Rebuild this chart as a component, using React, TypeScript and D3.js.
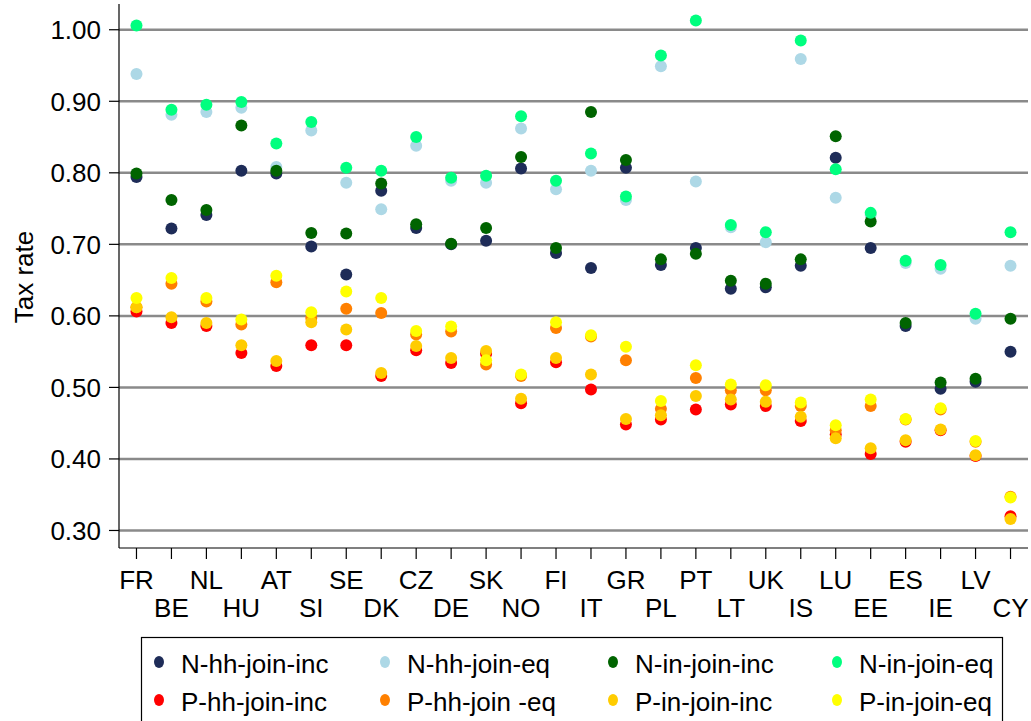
import React from 'react';
import * as d3 from 'd3';

const countries = ['FR', 'BE', 'NL', 'HU', 'AT', 'SI', 'SE', 'DK', 'CZ', 'DE', 'SK', 'NO', 'FI', 'IT', 'GR', 'PL', 'PT', 'LT', 'UK', 'IS', 'LU', 'EE', 'ES', 'IE', 'LV', 'CY'];

const nHhJoinInc = [0.794, 0.722, 0.741, 0.803, 0.799, 0.697, 0.658, 0.775, 0.723, 0.700, 0.705, 0.806, 0.688, 0.667, 0.807, 0.671, 0.695, 0.638, 0.640, 0.670, 0.821, 0.695, 0.586, 0.498, 0.508, 0.550];
const nHhJoinEq = [0.938, 0.881, 0.885, 0.891, 0.808, 0.859, 0.786, 0.749, 0.838, 0.789, 0.786, 0.862, 0.777, 0.803, 0.762, 0.949, 0.788, 0.724, 0.703, 0.959, 0.765, 0.741, 0.674, 0.666, 0.596, 0.670];
const nInJoinInc = [0.799, 0.762, 0.748, 0.866, 0.803, 0.716, 0.715, 0.785, 0.728, 0.701, 0.723, 0.822, 0.695, 0.885, 0.818, 0.679, 0.687, 0.649, 0.645, 0.679, 0.851, 0.732, 0.590, 0.507, 0.512, 0.596];
const nInJoinEq = [1.006, 0.888, 0.895, 0.899, 0.841, 0.871, 0.807, 0.803, 0.850, 0.793, 0.796, 0.879, 0.789, 0.827, 0.767, 0.964, 1.013, 0.727, 0.717, 0.985, 0.805, 0.744, 0.677, 0.671, 0.603, 0.717];
const pHhJoinInc = [0.606, 0.590, 0.586, 0.548, 0.530, 0.559, 0.559, 0.516, 0.552, 0.534, 0.547, 0.478, 0.535, 0.497, 0.448, 0.455, 0.469, 0.476, 0.474, 0.453, 0.434, 0.407, 0.424, 0.440, 0.404, 0.320];
const pHhJoinEq = [0.612, 0.645, 0.620, 0.588, 0.647, 0.597, 0.610, 0.604, 0.574, 0.578, 0.532, 0.516, 0.583, 0.571, 0.538, 0.470, 0.513, 0.496, 0.496, 0.474, 0.440, 0.474, 0.455, 0.469, 0.424, 0.347];
const pInJoinInc = [0.612, 0.598, 0.590, 0.559, 0.537, 0.591, 0.581, 0.520, 0.558, 0.541, 0.551, 0.484, 0.541, 0.518, 0.456, 0.461, 0.488, 0.483, 0.480, 0.459, 0.429, 0.415, 0.426, 0.441, 0.405, 0.316];
const pInJoinEq = [0.625, 0.653, 0.625, 0.595, 0.656, 0.605, 0.634, 0.625, 0.579, 0.585, 0.538, 0.518, 0.591, 0.573, 0.557, 0.481, 0.531, 0.504, 0.503, 0.479, 0.447, 0.483, 0.456, 0.471, 0.425, 0.346];

const seriesNames = ['N-hh-join-inc', 'N-hh-join-eq', 'N-in-join-inc', 'N-in-join-eq', 'P-hh-join-inc', 'P-hh-join -eq', 'P-in-join-inc', 'P-in-join-eq'];
const seriesColors = ['#1e2c58', '#add8e6', '#006400', '#00ff7f', '#ff0000', '#ff8000', '#ffcc00', '#ffff00'];
const yTicks = [0.3, 0.4, 0.5, 0.6, 0.7, 0.8, 0.9, 1.0];

const series = [nHhJoinInc, nHhJoinEq, nInJoinInc, nInJoinEq, pHhJoinInc, pHhJoinEq, pInJoinInc, pInJoinEq];

const W = 1031;
const H = 721;
const left = 119, right = 1028, top = 4, bottom = 548;
const font = '"Liberation Sans", Arial, sans-serif';

export default function App() {
  const x = d3.scalePoint<string>().domain(countries).range([left, right]).padding(0.5);
  const y = d3.scaleLinear().domain([0.2755, 1.036]).range([bottom, top]);

  return (
    <svg width={W} height={H} style={{ position: 'absolute', left: 0, top: 0, background: '#fff' }} fontFamily={font}>
      {/* gridlines */}
      {yTicks.map(t => (
        <line key={'g' + t} x1={left} x2={right} y1={y(t)} y2={y(t)} stroke="#8a8a8a" strokeWidth={2.5} />
      ))}
      {/* axes */}
      <line x1={left} x2={left} y1={top} y2={bottom} stroke="#000" strokeWidth={1.2} />
      <line x1={left} x2={right} y1={bottom} y2={bottom} stroke="#000" strokeWidth={1.2} />
      {yTicks.map(t => (
        <g key={'yt' + t}>
          <line x1={left - 10} x2={left} y1={y(t)} y2={y(t)} stroke="#000" strokeWidth={1.2} />
          <text x={left - 18} y={y(t)} dy="0.36em" textAnchor="end" fontSize={26}>{t.toFixed(2)}</text>
        </g>
      ))}
      {countries.map((c, i) => (
        <g key={'xt' + c}>
          <line x1={x(c)} x2={x(c)} y1={bottom} y2={bottom + 11} stroke="#000" strokeWidth={1.2} />
          <text x={x(c)} y={i % 2 === 0 ? 589 : 617} textAnchor="middle" fontSize={26}>{c}</text>
        </g>
      ))}
      <text transform={`translate(33,277) rotate(-90)`} textAnchor="middle" fontSize={26}>Tax rate</text>
      {/* points */}
      {series.map((vals, s) => (
        <g key={'s' + s}>
          {vals.map((v, i) => (
            <circle key={i} cx={x(countries[i])} cy={y(v)} r={6} fill={seriesColors[s]} />
          ))}
        </g>
      ))}
      {/* legend */}
      <rect x={141.5} y={637.5} width={861} height={100} fill="#fff" stroke="#000" strokeWidth={1.2} />
      {seriesNames.map((n, i) => {
        const col = i % 4;
        const row = Math.floor(i / 4);
        const cx = [159, 385, 613, 837][col];
        const cy = row === 0 ? 662 : 700;
        return (
          <g key={'l' + n}>
            <ellipse cx={cx} cy={cy} rx={5} ry={6} fill={seriesColors[i]} />
            <text x={cx + 22} y={cy + 11} fontSize={26}>{n}</text>
          </g>
        );
      })}
    </svg>
  );
}
